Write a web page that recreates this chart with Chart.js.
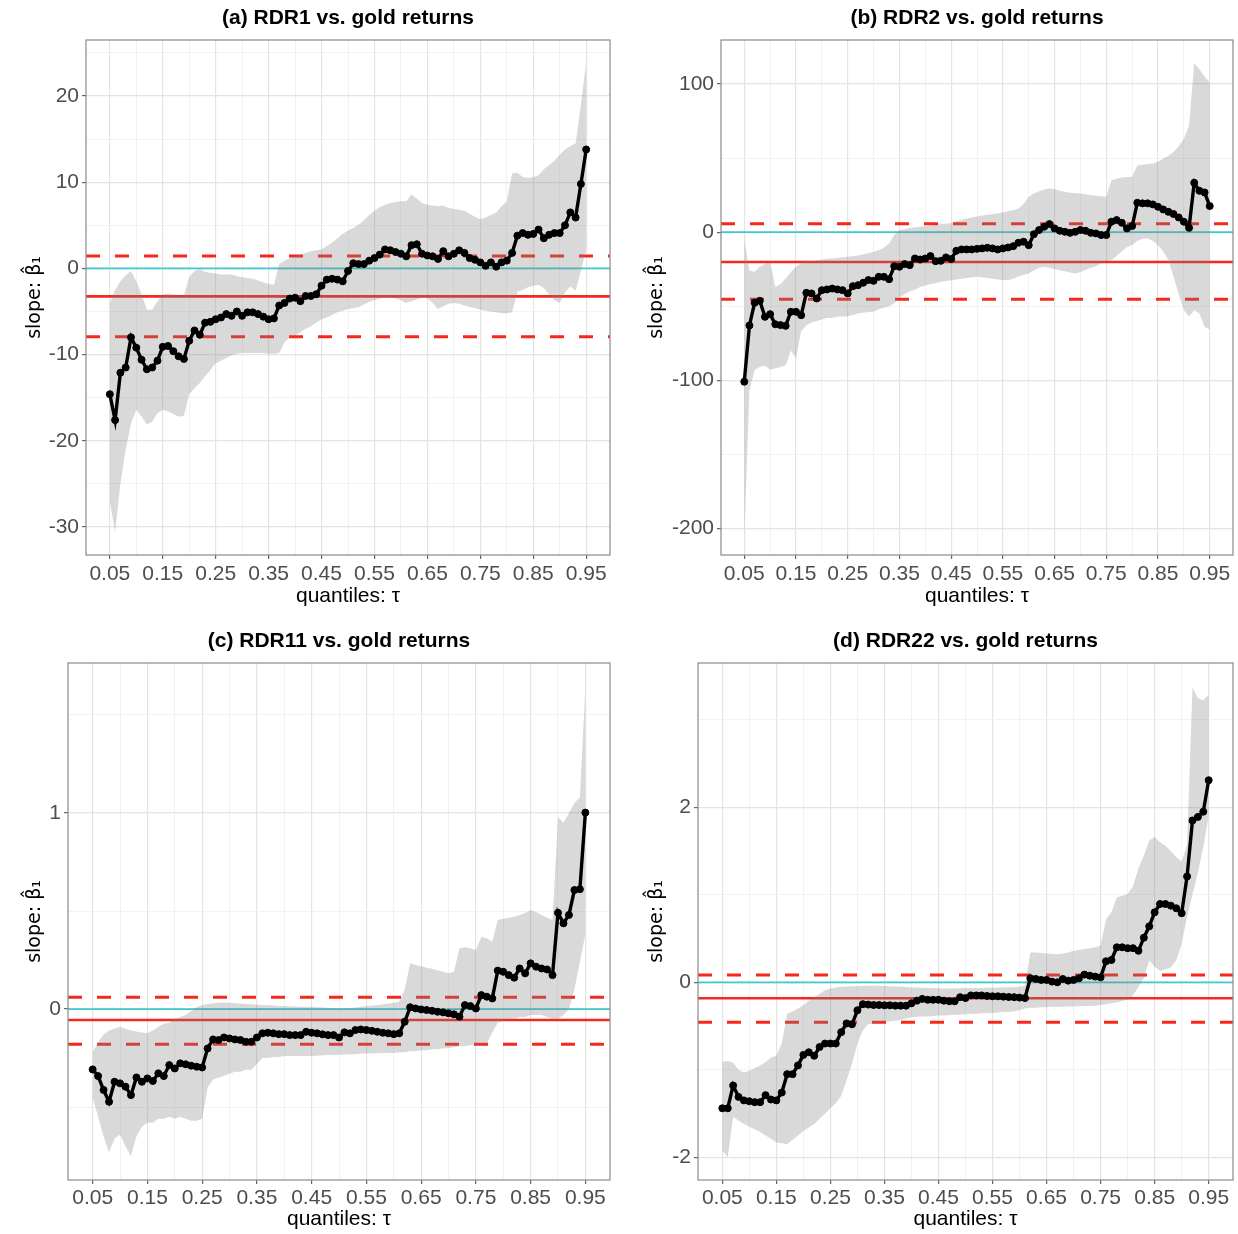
<!doctype html>
<html>
<head>
  <meta charset="utf-8" />
  <title>Quantile slopes vs. gold returns</title>
  <style>
    body { margin: 0; background: #fff; }
    canvas { position: absolute; }
  </style>
  <script src="https://cdn.jsdelivr.net/npm/chart.js"></script>
</head>
<body>
  <canvas id="pa" width="619" height="617" style="left:0;top:0"></canvas>
  <canvas id="pb" width="619" height="617" style="left:619px;top:0"></canvas>
  <canvas id="pc" width="619" height="617" style="left:0;top:617px"></canvas>
  <canvas id="pd" width="619" height="617" style="left:619px;top:617px"></canvas>

<script>
// quantiles on the x axis
const tau = [
  0.05, 0.06, 0.07, 0.08, 0.09, 0.10, 0.11, 0.12, 0.13, 0.14,
  0.15, 0.16, 0.17, 0.18, 0.19, 0.20, 0.21, 0.22, 0.23, 0.24,
  0.25, 0.26, 0.27, 0.28, 0.29, 0.30, 0.31, 0.32, 0.33, 0.34,
  0.35, 0.36, 0.37, 0.38, 0.39, 0.40, 0.41, 0.42, 0.43, 0.44,
  0.45, 0.46, 0.47, 0.48, 0.49, 0.50, 0.51, 0.52, 0.53, 0.54,
  0.55, 0.56, 0.57, 0.58, 0.59, 0.60, 0.61, 0.62, 0.63, 0.64,
  0.65, 0.66, 0.67, 0.68, 0.69, 0.70, 0.71, 0.72, 0.73, 0.74,
  0.75, 0.76, 0.77, 0.78, 0.79, 0.80, 0.81, 0.82, 0.83, 0.84,
  0.85, 0.86, 0.87, 0.88, 0.89, 0.90, 0.91, 0.92, 0.93, 0.94, 0.95
];
const xTicks = [0.05, 0.10, 0.15, 0.20, 0.25, 0.30, 0.35, 0.40, 0.45, 0.50,
                0.55, 0.60, 0.65, 0.70, 0.75, 0.80, 0.85, 0.90, 0.95];
const xTickLabels = ['0.05', '', '0.15', '', '0.25', '', '0.35', '', '0.45', '',
                     '0.55', '', '0.65', '', '0.75', '', '0.85', '', '0.95'];

// (a) RDR1
const aLine = [
  -14.6, -17.6, -12.1, -11.5, -8.0, -9.2, -10.6, -11.7, -11.5, -10.7,
  -9.1, -9.0, -9.6, -10.2, -10.5, -8.4, -7.2, -7.7, -6.3, -6.2,
  -5.9, -5.7, -5.3, -5.5, -5.0, -5.5, -5.1, -5.1, -5.3, -5.6,
  -5.9, -5.8, -4.3, -4.0, -3.5, -3.4, -3.8, -3.2, -3.2, -3.0,
  -2.0, -1.3, -1.2, -1.3, -1.5, -0.3, 0.6, 0.5, 0.5, 0.9,
  1.2, 1.6, 2.2, 2.1, 1.9, 1.7, 1.4, 2.7, 2.8, 1.7,
  1.5, 1.4, 1.1, 2.0, 1.4, 1.7, 2.1, 1.8, 1.2, 1.0,
  0.7, 0.3, 0.7, 0.2, 0.7, 0.9, 1.8, 3.8, 4.1, 3.9,
  4.0, 4.5, 3.5, 3.9, 4.1, 4.1, 5.0, 6.5, 5.9, 9.8, 13.8
];
const aUpper = [
  -4.0, -2.5, -1.5, -0.8, -0.3, -1.5, -3.0, -4.8, -4.8, -3.8,
  -3.0, -2.9, -3.0, -3.1, -3.2, -1.0, -0.3, -0.1, -0.4, -0.5,
  -0.6, -0.7, -0.7, -0.7, -0.9, -1.0, -1.1, -1.2, -1.4, -1.6,
  -1.8, -1.9, 0.5, 0.9, 1.2, 1.4, 1.6, 1.8, 2.0, 2.1,
  2.2, 2.6, 3.0, 3.5, 4.0, 4.4, 4.7, 5.1, 5.6, 6.2,
  6.7, 7.1, 7.4, 7.6, 7.7, 7.8, 7.8, 8.6, 8.1, 7.6,
  7.4, 7.3, 7.2, 7.3, 7.0, 6.9, 6.8, 6.7, 6.3, 6.0,
  5.7, 5.9, 6.2, 6.5, 7.2, 7.8, 11.0, 11.1, 10.6, 10.5,
  10.6, 10.8, 11.5, 12.0, 12.5, 13.2, 13.8, 14.2, 14.5, 19.0, 23.9
];
const aLower = [
  -27.0, -30.6, -25.0, -21.0, -18.0, -16.4, -17.2, -18.1, -17.8, -16.8,
  -16.4, -16.6, -16.9, -17.2, -17.1, -14.6, -13.9, -13.3, -12.5, -11.8,
  -11.0, -10.7, -10.4, -10.1, -9.9, -9.8, -9.8, -9.8, -9.8, -9.8,
  -9.9, -9.9, -9.8, -8.6, -8.0, -7.8, -7.4, -7.0, -6.7, -6.3,
  -5.9, -5.7, -5.4, -5.1, -4.9, -4.7, -4.6, -4.5, -4.2, -3.9,
  -3.7, -3.5, -3.4, -3.4, -3.5, -3.7, -4.0, -3.8, -3.6, -3.4,
  -3.5, -4.0, -4.7, -4.4, -4.1, -4.0, -4.1, -4.3, -4.5, -4.6,
  -4.8, -4.9, -5.0, -5.1, -5.2, -5.2, -5.1, -2.7, -2.5, -2.2,
  -2.0, -1.9, -2.3, -3.0, -3.7, -4.0, -2.8, -2.1, -2.6, -0.3, 2.2
];
const aOls = [-3.25, 1.43, -7.93];            // estimate, upper, lower
const aYTicks = [-30, -25, -20, -15, -10, -5, 0, 5, 10, 15, 20, 25];
const aYLabels = ['-30', '', '-20', '', '-10', '', '0', '', '10', '', '20', ''];

// (b) RDR2
const bLine = [
  -101, -63, -47.7, -46.4, -57.2, -55.4, -62.2, -62.8, -63.3, -53.8,
  -53.8, -56.1, -41.0, -41.4, -44.8, -39.2, -38.7, -38.1, -38.7, -39.2,
  -41.4, -36.5, -35.8, -34.2, -32.4, -32.9, -30.2, -30.2, -31.8, -23.0,
  -23.4, -21.6, -22.3, -17.8, -18.5, -17.8, -16.2, -19.6, -19.4, -17.1,
  -18.2, -12.6, -11.7, -11.7, -11.7, -11.3, -11.0, -10.6, -11.0, -11.7,
  -11.0, -10.4, -9.5, -7.2, -6.5, -8.8, -1.4, 1.4, 3.6, 5.4,
  2.5, 0.9, 0.2, -0.5, 0.2, 1.4, 0.9, -0.5, -0.9, -2.0,
  -2.0, 7.0, 8.1, 6.3, 2.5, 4.1, 19.8, 19.4, 19.4, 18.7,
  17.1, 15.3, 13.7, 12.2, 9.9, 7.0, 2.9, 33.3, 27.9, 26.8, 17.6
];
const bUpper = [
  -5, -26, -26.8, -23.4, -21.5, -20, -37, -35, -31.3, -27,
  -23.4, -21, -19, -20, -19, -18.5, -18, -17.8, -17.5, -17,
  -16.7, -16.3, -15.8, -15, -14.2, -13.3, -12, -10.5, -7.7, -2,
  1.4, 2, 2.8, 3.3, 3.6, 4, 4.5, 5, 5.4, 5.7,
  6.2, 7.3, 8.3, 9.2, 10, 10.6, 11.2, 11.7, 12.1, 12.6,
  13.3, 14, 14.8, 16, 19, 23.9, 26, 27.5, 28.8, 29.5,
  29, 28, 27.2, 26.6, 26.2, 26, 25.5, 25, 24.5, 24.2,
  23.9, 35, 36, 36.8, 37.2, 37.4, 45, 45.5, 46, 46.3,
  47.5, 49.5, 51.5, 54, 58, 63, 72, 114, 110, 105, 101
];
const bLower = [
  -205, -107, -93, -91, -90, -93, -92, -91, -90, -80,
  -85, -67, -63, -61, -60, -59, -58, -58, -57, -57,
  -57, -56, -55, -54.5, -54, -53.8, -52, -51, -50, -48,
  -44, -42, -40, -39, -37, -36, -35, -34.5, -33.6, -33,
  -32.5, -32, -31.5, -31, -30.5, -30.2, -30.5, -31, -31.5, -32,
  -32.4, -32.4, -31.5, -30, -29, -27.9, -26, -24, -23.4, -24,
  -25, -25.7, -26.5, -27.2, -27.9, -27, -25.5, -24, -23, -21,
  -19.5, -19, -16, -13, -10, -8.8, -6, -4.5, -4.3, -6,
  -8.8, -13, -19, -30, -42, -52.7, -57, -52.7, -55, -63.9, -66
];
const bOls = [-20.2, 5.7, -45.4];
const bYTicks = [-200, -150, -100, -50, 0, 50, 100];
const bYLabels = ['-200', '', '-100', '', '0', '', '100'];

// (c) RDR11
const cLine = [
  -0.308, -0.342, -0.413, -0.473, -0.371, -0.379, -0.396, -0.439, -0.349, -0.371,
  -0.354, -0.367, -0.328, -0.342, -0.286, -0.303, -0.277, -0.282, -0.289, -0.294,
  -0.298, -0.201, -0.155, -0.158, -0.145, -0.150, -0.155, -0.158, -0.167, -0.167,
  -0.145, -0.124, -0.121, -0.124, -0.128, -0.128, -0.133, -0.133, -0.133, -0.116,
  -0.121, -0.124, -0.129, -0.133, -0.133, -0.145, -0.119, -0.124, -0.107, -0.104,
  -0.107, -0.111, -0.116, -0.121, -0.124, -0.128, -0.124, -0.065, 0.009, 0.003,
  -0.002, -0.005, -0.009, -0.014, -0.017, -0.022, -0.027, -0.039, 0.020, 0.015,
  0.003, 0.071, 0.063, 0.054, 0.196, 0.190, 0.173, 0.160, 0.207, 0.182,
  0.233, 0.216, 0.207, 0.202, 0.173, 0.491, 0.437, 0.480, 0.607, 0.611, 1.002
];
const cUpper = [
  -0.22, -0.17, -0.13, -0.11, -0.10, -0.09, -0.10, -0.11, -0.115, -0.12,
  -0.124, -0.11, -0.09, -0.075, -0.07, -0.05, -0.04, -0.03, -0.01, 0.01,
  0.02, 0.026, 0.03, 0.032, 0.033, 0.032, 0.03, 0.028, 0.026, 0.024,
  0.022, 0.02, 0.02, 0.018, 0.016, 0.015, 0.014, 0.013, 0.012, 0.012,
  0.012, 0.01, 0.008, 0.006, 0.005, 0.004, 0.003, 0.005, 0.008, 0.012,
  0.015, 0.018, 0.02, 0.024, 0.028, 0.032, 0.037, 0.10, 0.233, 0.225,
  0.218, 0.21, 0.205, 0.198, 0.19, 0.182, 0.19, 0.31, 0.315, 0.31,
  0.30, 0.369, 0.36, 0.344, 0.454, 0.46, 0.465, 0.471, 0.48, 0.49,
  0.505, 0.495, 0.48, 0.465, 0.454, 0.98, 0.95, 1.00, 1.05, 1.08, 1.64
];
const cLower = [
  -0.45, -0.55, -0.65, -0.73, -0.66, -0.64, -0.70, -0.75, -0.65, -0.60,
  -0.58, -0.58, -0.56, -0.56, -0.55, -0.56, -0.55, -0.56, -0.57, -0.57,
  -0.56, -0.40, -0.36, -0.35, -0.34, -0.33, -0.32, -0.32, -0.31, -0.31,
  -0.28, -0.25, -0.25, -0.245, -0.245, -0.24, -0.24, -0.24, -0.24, -0.24,
  -0.24, -0.238, -0.236, -0.235, -0.234, -0.233, -0.232, -0.23, -0.23, -0.228,
  -0.227, -0.226, -0.225, -0.224, -0.224, -0.224, -0.22, -0.22, -0.215, -0.215,
  -0.21, -0.21, -0.205, -0.205, -0.2, -0.2, -0.195, -0.19, -0.19, -0.185,
  -0.18, -0.18, -0.175, -0.12, -0.07, -0.06, -0.05, -0.05, -0.04, -0.04,
  -0.03, -0.03, -0.03, -0.04, -0.05, -0.05, -0.03, 0.0, 0.10, 0.24, 0.38
];
const cOls = [-0.056, 0.060, -0.179];
const cYTicks = [-0.5, 0, 0.5, 1, 1.5];
const cYLabels = ['', '0', '', '1', ''];

// (d) RDR22
const dLine = [
  -1.44, -1.44, -1.18, -1.31, -1.35, -1.36, -1.37, -1.37, -1.29, -1.34,
  -1.35, -1.26, -1.05, -1.05, -0.95, -0.83, -0.80, -0.84, -0.74, -0.70,
  -0.70, -0.70, -0.57, -0.47, -0.48, -0.32, -0.25, -0.255, -0.26, -0.26,
  -0.263, -0.263, -0.267, -0.267, -0.267, -0.24, -0.21, -0.19, -0.20, -0.20,
  -0.20, -0.21, -0.217, -0.217, -0.17, -0.18, -0.15, -0.15, -0.15, -0.156,
  -0.16, -0.16, -0.164, -0.168, -0.17, -0.175, -0.18, 0.046, 0.038, 0.027,
  0.027, 0.008, 0.0, 0.038, 0.019, 0.027, 0.046, 0.088, 0.076, 0.065,
  0.057, 0.24, 0.255, 0.40, 0.40, 0.39, 0.39, 0.36, 0.51, 0.64,
  0.80, 0.895, 0.895, 0.876, 0.846, 0.79, 1.21, 1.85, 1.89, 1.95, 2.31
];
const dUpper = [
  -0.91, -0.90, -0.92, -1.00, -1.03, -1.01, -0.98, -0.95, -0.91, -0.86,
  -0.84, -0.70, -0.36, -0.33, -0.30, -0.26, -0.21, -0.17, -0.13, -0.09,
  -0.07, -0.06, -0.05, -0.048, -0.046, -0.044, -0.042, -0.04, -0.04, -0.04,
  -0.042, -0.045, -0.048, -0.05, -0.055, -0.057, -0.06, -0.062, -0.064, -0.066,
  -0.068, -0.07, -0.07, -0.068, -0.067, -0.066, -0.065, -0.065, -0.064, -0.063,
  -0.062, -0.06, -0.058, -0.057, -0.055, -0.05, -0.04, 0.34, 0.34, 0.335,
  0.33, 0.325, 0.32, 0.33, 0.34, 0.36, 0.37, 0.38, 0.39, 0.40,
  0.42, 0.72, 0.80, 0.97, 0.99, 1.01, 1.10, 1.30, 1.45, 1.62,
  1.66, 1.60, 1.56, 1.50, 1.43, 1.38, 1.58, 3.37, 3.25, 3.22, 3.29
];
const dLower = [
  -1.92, -2.00, -1.54, -1.58, -1.62, -1.65, -1.68, -1.71, -1.75, -1.79,
  -1.83, -1.84, -1.85, -1.80, -1.75, -1.70, -1.66, -1.62, -1.56, -1.50,
  -1.44, -1.38, -1.30, -1.12, -0.93, -0.70, -0.55, -0.48, -0.47, -0.46,
  -0.45, -0.445, -0.44, -0.43, -0.415, -0.40, -0.395, -0.39, -0.39, -0.385,
  -0.38, -0.38, -0.375, -0.37, -0.37, -0.365, -0.36, -0.36, -0.355, -0.35,
  -0.35, -0.345, -0.34, -0.34, -0.33, -0.32, -0.30, -0.29, -0.29, -0.285,
  -0.285, -0.28, -0.28, -0.28, -0.278, -0.276, -0.274, -0.272, -0.27, -0.268,
  -0.26, -0.25, -0.24, -0.23, -0.215, -0.20, -0.15, -0.05, 0.05, 0.25,
  0.18, 0.13, 0.15, 0.17, 0.25, 0.44, 0.75, 1.00, 1.25, 1.55, 1.90
];
const dOls = [-0.183, 0.084, -0.457];
const dYTicks = [-2, -1, 0, 1, 2, 3];
const dYLabels = ['-2', '', '0', '', '2', ''];

const xMin = 0.005, xMax = 0.995;
const FONT = '"Liberation Sans", Arial, sans-serif';
const RED = '#f5281c';
const CYAN = '#3fc9cc';
const BAND = 'rgba(128,128,128,0.3)';

// frame around the panel and its title, as ggplot draws them
const panelDecor = {
  id: 'panelDecor',
  afterDraw(chart, args, opts) {
    const { ctx, chartArea: a } = chart;
    ctx.save();
    ctx.strokeStyle = '#8a8a8a';
    ctx.lineWidth = 1.2;
    ctx.strokeRect(a.left, a.top, a.right - a.left, a.bottom - a.top);
    ctx.fillStyle = '#000';
    ctx.font = 'bold 21px ' + FONT;
    ctx.textAlign = 'center';
    ctx.textBaseline = 'middle';
    ctx.fillText(opts.text, (a.left + a.right) / 2, a.top - 22);
    ctx.restore();
  }
};

function makePanel(id, p) {
  const pts = arr => tau.map((t, i) => ({ x: t, y: arr[i] }));
  const hline = v => [{ x: xMin, y: v }, { x: xMax, y: v }];
  const flat = { pointRadius: 0, fill: false, tension: 0 };
  const gridStyle = labels => ({
    color: c => labels[c.index] ? '#e4e4e4' : '#efefef',
    lineWidth: c => labels[c.index] ? 1.2 : 0.8,
    tickLength: 4,
    tickColor: c => labels[c.index] ? '#666' : 'rgba(0,0,0,0)'
  });

  new Chart(document.getElementById(id), {
    type: 'line',
    data: {
      datasets: [
        { ...flat, data: hline(0), borderColor: CYAN, borderWidth: 1.8, order: 9 },
        { ...flat, data: hline(p.ols[0]), borderColor: RED, borderWidth: 2.6, order: 8 },
        { ...flat, data: hline(p.ols[1]), borderColor: RED, borderWidth: 3, borderDash: [14, 15], order: 8 },
        { ...flat, data: hline(p.ols[2]), borderColor: RED, borderWidth: 3, borderDash: [14, 15], order: 8 },
        { ...flat, data: pts(p.lower), borderWidth: 0, borderColor: 'rgba(0,0,0,0)', order: 5 },
        { ...flat, data: pts(p.upper), borderWidth: 0, borderColor: 'rgba(0,0,0,0)',
          fill: '-1', backgroundColor: BAND, order: 5 },
        { data: pts(p.line), borderColor: '#000', borderWidth: 3.4, tension: 0,
          pointRadius: 3.5, pointBackgroundColor: '#000', pointBorderColor: '#000',
          pointBorderWidth: 1, fill: false, order: 1 }
      ]
    },
    options: {
      responsive: false,
      animation: false,
      layout: { padding: { left: 0, right: p.padR, top: p.padT, bottom: 0 } },
      plugins: {
        legend: { display: false },
        tooltip: { enabled: false },
        panelDecor: { text: p.title }
      },
      scales: {
        x: {
          type: 'linear', min: xMin, max: xMax,
          afterBuildTicks: s => { s.ticks = xTicks.map(v => ({ value: v })); },
          afterFit: s => { s.height = p.xAxisH; },
          ticks: {
            autoSkip: false, maxRotation: 0, padding: p.xTickPad,
            color: '#4d4d4d', font: { family: FONT, size: 21 },
            callback: (v, i) => xTickLabels[i]
          },
          grid: gridStyle(xTickLabels),
          border: { display: false },
          title: {
            display: true, text: 'quantiles: τ', color: '#000',
            font: { family: FONT, size: 21 },
            padding: { top: 0, bottom: p.xTitlePad }
          }
        },
        y: {
          type: 'linear', min: p.yMin, max: p.yMax,
          afterBuildTicks: s => { s.ticks = p.yTicks.map(v => ({ value: v })); },
          afterFit: s => { s.width = p.yAxisW; },
          ticks: {
            autoSkip: false, padding: 3,
            color: '#4d4d4d', font: { family: FONT, size: 21 },
            callback: (v, i) => p.yLabels[i]
          },
          grid: gridStyle(p.yLabels),
          border: { display: false },
          title: {
            display: true, text: 'slope: \u03b2\u0302\u2081', color: '#000',
            font: { family: '"DejaVu Sans", sans-serif', size: 19 },
            padding: { top: p.yTitlePad, bottom: 0 }
          }
        }
      }
    },
    plugins: [panelDecor]
  });
}

makePanel('pa', {
  title: '(a) RDR1 vs. gold returns', line: aLine, upper: aUpper, lower: aLower, ols: aOls,
  yTicks: aYTicks, yLabels: aYLabels, yMin: -33.25, yMax: 26.5,
  yAxisW: 86, padR: 9, padT: 40, xAxisH: 62, xTickPad: 2.4, xTitlePad: 8.4, yTitlePad: 23.4
});
makePanel('pb', {
  title: '(b) RDR2 vs. gold returns', line: bLine, upper: bUpper, lower: bLower, ols: bOls,
  yTicks: bYTicks, yLabels: bYLabels, yMin: -218, yMax: 129.7,
  yAxisW: 102, padR: 3, padT: 40, xAxisH: 62, xTickPad: 2.4, xTitlePad: 8.4, yTitlePad: 26.4
});
makePanel('pc', {
  title: '(c) RDR11 vs. gold returns', line: cLine, upper: cUpper, lower: cLower, ols: cOls,
  yTicks: cYTicks, yLabels: cYLabels, yMin: -0.872, yMax: 1.765,
  yAxisW: 68, padR: 9, padT: 46, xAxisH: 54, xTickPad: 1.4, xTitlePad: 2.4, yTitlePad: 23.4
});
makePanel('pd', {
  title: '(d) RDR22 vs. gold returns', line: dLine, upper: dUpper, lower: dLower, ols: dOls,
  yTicks: dYTicks, yLabels: dYLabels, yMin: -2.26, yMax: 3.65,
  yAxisW: 79, padR: 3, padT: 46, xAxisH: 54, xTickPad: 1.4, xTitlePad: 2.4, yTitlePad: 26.4
});
</script>
</body>
</html>
